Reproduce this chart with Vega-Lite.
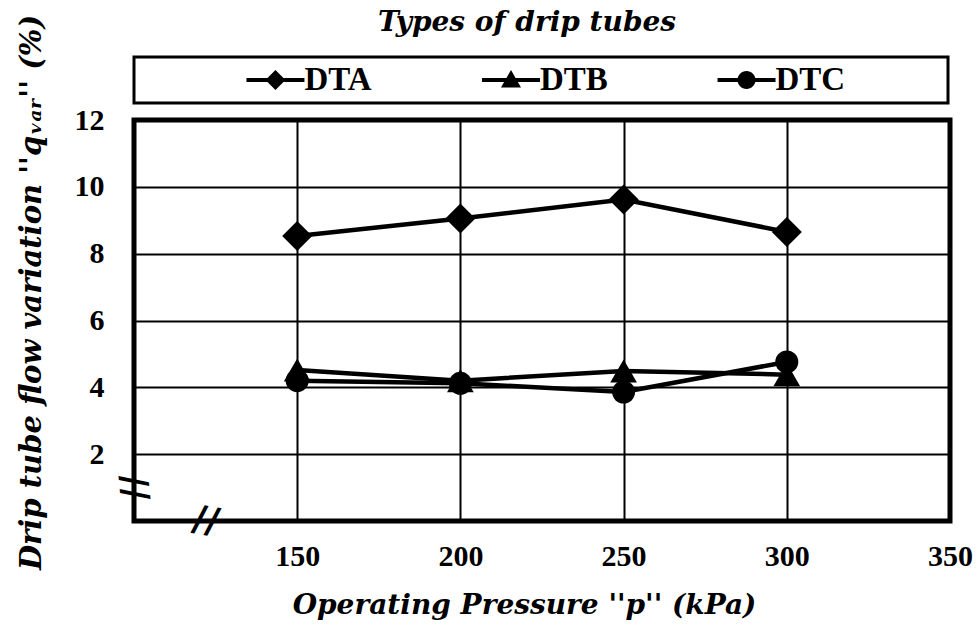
{
  "$schema": "https://vega.github.io/schema/vega-lite/v6.json",
  "padding": {"left": 14, "top": 7, "right": 5, "bottom": 5},
  "background": "white",
  "bounds": "flush",
  "spacing": 17,
  "resolve": {"scale": {"x": "independent", "shape": "independent", "size": "independent"}},
  "config": {
    "font": "Liberation Serif",
    "legend": {"disable": true}
  },
  "vconcat": [
    {
      "width": 814,
      "height": 46,
      "view": {"stroke": "black", "strokeWidth": 3},
      "title": {
        "text": "Types of drip tubes",
        "font": "DejaVu Serif",
        "fontStyle": "italic",
        "fontWeight": "bold",
        "fontSize": 28,
        "color": "black",
        "anchor": "middle",
        "dx": -14,
        "offset": 20
      },
      "data": {"values": [{"series": "DTA"}, {"series": "DTB"}, {"series": "DTC"}]},
      "layer": [
        {
          "mark": {"type": "point", "filled": true, "color": "black", "opacity": 1, "size": 400},
          "encoding": {
            "x": {"field": "series", "type": "nominal", "scale": {"type": "point", "padding": 0.728, "align": 0.4125}, "axis": null},
            "shape": {
              "field": "series",
              "type": "nominal",
              "scale": {
                "domain": ["DTA", "DTB", "DTC"],
                "range": [
                  "M-2.9,-0.2H2.9V0.2H-2.9Z M-1,0L0,-1L1,0L0,1Z",
                  "M-2.9,-0.2H2.9V0.2H-2.9Z M-1,0.75L0,-1L1,0.75Z",
                  "M-2.9,-0.2H2.9V0.2H-2.9Z M-0.9,0A0.9,0.9 0 1,1 0.9,0A0.9,0.9 0 1,1 -0.9,0Z"
                ]
              },
              "legend": null
            }
          }
        },
        {
          "mark": {"type": "text", "align": "left", "baseline": "middle", "dx": 29, "font": "Liberation Serif", "fontWeight": "bold", "fontSize": 33, "color": "black"},
          "encoding": {
            "x": {"field": "series", "type": "nominal", "scale": {"type": "point", "padding": 0.728, "align": 0.4125}, "axis": null},
            "text": {"field": "series"}
          }
        }
      ]
    },
    {
      "width": 816,
      "height": 401,
      "view": {"stroke": "black", "strokeWidth": 5},
      "data": {
        "values": [
          {"series": "DTA", "pressure": 150, "qvar": 8.53},
          {"series": "DTA", "pressure": 200, "qvar": 9.05},
          {"series": "DTA", "pressure": 250, "qvar": 9.62},
          {"series": "DTA", "pressure": 300, "qvar": 8.65},
          {"series": "DTB", "pressure": 150, "qvar": 4.52},
          {"series": "DTB", "pressure": 200, "qvar": 4.2},
          {"series": "DTB", "pressure": 250, "qvar": 4.49},
          {"series": "DTB", "pressure": 300, "qvar": 4.38},
          {"series": "DTC", "pressure": 150, "qvar": 4.2},
          {"series": "DTC", "pressure": 200, "qvar": 4.12},
          {"series": "DTC", "pressure": 250, "qvar": 3.86},
          {"series": "DTC", "pressure": 300, "qvar": 4.76}
        ]
      },
      "layer": [
        {
          "mark": {"type": "line", "color": "black", "strokeWidth": 4.5},
          "encoding": {
            "x": {
              "field": "pressure",
              "type": "quantitative",
              "scale": {"domain": [100, 350], "nice": false, "zero": false},
              "axis": {
                "values": [150, 200, 250, 300, 350],
                "grid": true,
                "gridColor": "black",
                "gridWidth": 2,
                "gridOpacity": 1,
                "domain": false,
                "ticks": false,
                "labelFlush": false,
                "labelFont": "Liberation Serif",
                "labelFontWeight": "bold",
                "labelFontSize": 30,
                "labelColor": "black",
                "labelPadding": 20,
                "title": "Operating Pressure ''p'' (kPa)",
                "titleFont": "DejaVu Serif",
                "titleFontStyle": "italic",
                "titleFontWeight": "bold",
                "titleFontSize": 28,
                "titleColor": "black",
                "titlePadding": 20,
                "titleX": 390
              }
            },
            "y": {
              "field": "qvar",
              "type": "quantitative",
              "scale": {"domain": [0, 12], "nice": false},
              "axis": {
                "values": [2, 4, 6, 8, 10, 12],
                "grid": true,
                "gridColor": "black",
                "gridWidth": 2,
                "gridOpacity": 1,
                "domain": false,
                "ticks": false,
                "labelFont": "Liberation Serif",
                "labelFontWeight": "bold",
                "labelFontSize": 30,
                "labelColor": "black",
                "labelPadding": 30,
                "title": "Drip tube flow variation ''qᵥₐᵣ'' (%)",
                "titleFont": "DejaVu Serif",
                "titleFontStyle": "italic",
                "titleFontWeight": "bold",
                "titleFontSize": 29,
                "titleColor": "black",
                "titlePadding": 28,
                "titleY": 172
              }
            },
            "detail": {"field": "series", "type": "nominal"}
          }
        },
        {
          "mark": {"type": "point", "filled": true, "color": "black", "opacity": 1},
          "encoding": {
            "x": {"field": "pressure", "type": "quantitative"},
            "y": {"field": "qvar", "type": "quantitative"},
            "shape": {
              "field": "series",
              "type": "nominal",
              "scale": {"domain": ["DTA", "DTB", "DTC"], "range": ["diamond", "triangle-up", "circle"]},
              "legend": null
            },
            "size": {
              "field": "series",
              "type": "ordinal",
              "scale": {"domain": ["DTA", "DTB", "DTC"], "range": [900, 529, 415]},
              "legend": null
            }
          }
        },
        {
          "data": {"values": [{"pressure": 122, "qvar": 0, "mark": "//"}]},
          "mark": {"type": "text", "angle": 10, "font": "DejaVu Sans", "fontWeight": "bold", "fontSize": 36, "color": "black", "baseline": "middle", "align": "center"},
          "encoding": {
            "x": {"field": "pressure", "type": "quantitative"},
            "y": {"field": "qvar", "type": "quantitative"},
            "text": {"field": "mark"}
          }
        },
        {
          "data": {"values": [{"pressure": 100, "qvar": 1, "mark": "//"}]},
          "mark": {"type": "text", "angle": 84, "font": "DejaVu Sans", "fontWeight": "bold", "fontSize": 36, "color": "black", "baseline": "middle", "align": "center"},
          "encoding": {
            "x": {"field": "pressure", "type": "quantitative"},
            "y": {"field": "qvar", "type": "quantitative"},
            "text": {"field": "mark"}
          }
        }
      ]
    }
  ]
}
